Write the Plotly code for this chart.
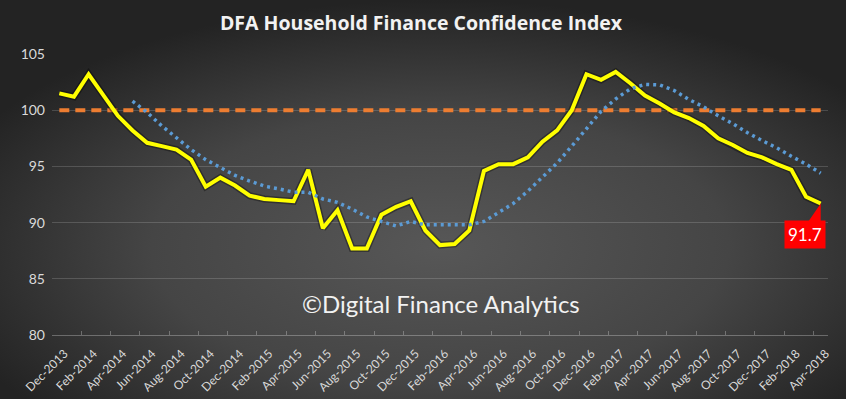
import base64
import pandas as pd
import plotly.graph_objects as go

# ---------------- data ----------------
months = [d.strftime("%b-%Y") for d in pd.date_range("2013-12-01", "2018-04-01", freq="MS")]

index_values = [
    101.5, 101.2, 103.2, 101.4, 99.5, 98.2, 97.1, 96.8, 96.5, 95.6,
    93.2, 94.0, 93.3, 92.4, 92.1, 92.0, 91.9, 94.7, 89.5, 91.1,
    87.7, 87.7, 90.7, 91.4, 91.9, 89.3, 88.0, 88.1, 89.3, 94.6,
    95.2, 95.2, 95.8, 97.2, 98.2, 100.0, 103.2, 102.7, 103.4, 102.4,
    101.3, 100.6, 99.8, 99.3, 98.6, 97.5, 96.9, 96.2, 95.8, 95.2,
    94.7, 92.3, 91.7,
]

trend_values = [
    None, None, None, None, None, 100.8, 99.8, 98.6, 97.5, 96.5,
    95.6, 94.9, 94.2, 93.7, 93.25, 93.0, 92.7, 92.7, 92.1, 91.8,
    91.2, 90.5, 90.1, 89.7, 90.1, 89.8, 89.8, 89.8, 89.8, 90.1,
    90.9, 91.7, 92.8, 94.0, 95.3, 96.8, 98.4, 99.9, 101.0, 101.9,
    102.3, 102.25, 101.75, 100.95, 100.3, 99.5, 98.8, 98.0, 97.3, 96.65,
    95.9, 95.2, 94.4,
]

neutral_values = [100] * len(months)

x_tick_labels = months[::2]
y_ticks = [80, 85, 90, 95, 100, 105]

title_text = "DFA Household Finance Confidence Index"
watermark_text = "©Digital Finance Analytics"
last_label = f"{index_values[-1]:.1f}"

# ---------------- layout geometry ----------------
W, H = 846, 399
ML, MR, MT, MB = 52, 18, 54, 64
PW, PH = W - ML - MR, H - MT - MB

FONT = "Lato, 'Open Sans', sans-serif"
TITLE_FONT = "'Open Sans', Lato, sans-serif"

# radial gradient background
svg = f"""<svg xmlns='http://www.w3.org/2000/svg' width='{W}' height='{H}' viewBox='0 0 {W} {H}'>
<defs><radialGradient id='g' cx='52%' cy='62%' r='62%'>
<stop offset='0%' stop-color='#575757'/>
<stop offset='55%' stop-color='#454545'/>
<stop offset='100%' stop-color='#232323'/>
</radialGradient></defs>
<rect width='{W}' height='{H}' fill='url(#g)'/></svg>"""
bg_uri = "data:image/svg+xml;base64," + base64.b64encode(svg.encode()).decode()

fig = go.Figure()

fig.add_trace(go.Scatter(
    x=months, y=neutral_values, mode="lines",
    line=dict(color="#ED7D31", width=4, dash="10px,6px"),
    hoverinfo="skip", showlegend=False,
))
# soft shadow under the index line
fig.add_trace(go.Scatter(
    x=months, y=index_values, mode="lines",
    line=dict(color="rgba(0,0,0,0.35)", width=7),
    hoverinfo="skip", showlegend=False,
))
fig.add_trace(go.Scatter(
    x=months, y=index_values, mode="lines",
    line=dict(color="#FFFF00", width=4),
    name="Index", showlegend=False,
))
fig.add_trace(go.Scatter(
    x=months, y=trend_values, mode="lines",
    line=dict(color="#5B9BD5", width=3.5, dash="3px,4px"),
    name="Trend", showlegend=False, connectgaps=False,
))

fig.update_layout(
    width=W, height=H,
    margin=dict(l=ML, r=MR, t=MT, b=MB, pad=0, autoexpand=False),
    paper_bgcolor="#333333",
    plot_bgcolor="rgba(0,0,0,0)",
    font=dict(family=FONT, color="#D9D9D9"),
    title=dict(
        text=f"<b>{title_text}</b>",
        x=421 / W, xref="container", xanchor="center",
        y=1 - 23 / H, yref="container", yanchor="middle",
        font=dict(family=TITLE_FONT, size=19.5, color="#F2F2F2"),
    ),
    images=[dict(
        source=bg_uri, xref="paper", yref="paper",
        x=-ML / PW, y=1 + MT / PH, sizex=W / PW, sizey=H / PH,
        xanchor="left", yanchor="top", sizing="stretch", layer="below",
    )],
    xaxis=dict(
        type="category", categoryorder="array", categoryarray=months,
        range=[-0.5, len(months) - 0.5],
        tickmode="array", tickvals=x_tick_labels, ticktext=x_tick_labels,
        tickangle=-45, tickfont=dict(size=12, color="#D9D9D9"),
        showgrid=False, zeroline=False, automargin=False,
        showline=True, linecolor="rgba(255,255,255,0.28)", linewidth=1,
        ticks="inside", ticklen=4, tickcolor="rgba(255,255,255,0.28)",
        tickson="boundaries", ticklabelstandoff=6, ticklabelshift=5,
        fixedrange=True,
    ),
    yaxis=dict(
        range=[80, 105], tickmode="array", tickvals=y_ticks,
        tickfont=dict(size=14, color="#D9D9D9"),
        showgrid=True, gridcolor="rgba(255,255,255,0.16)", gridwidth=1,
        zeroline=False, showline=False, ticks="", ticklabelstandoff=6,
        automargin=False, fixedrange=True,
    ),
    annotations=[
        dict(
            text=watermark_text, xref="paper", yref="paper",
            x=(441 - ML) / PW, y=(H - MB - 303) / PH,
            xanchor="center", yanchor="middle", showarrow=False,
            font=dict(family=FONT, size=24, color="#F2F2F2"),
        ),
        dict(
            text=last_label, x=months[-1], y=index_values[-1],
            xref="x", yref="y", showarrow=False,
            xanchor="center", yanchor="middle", xshift=-16, yshift=-31,
            bgcolor="#FF0000", borderpad=3,
            font=dict(family=FONT, size=17, color="#FFFFFF"),
        ),
    ],
    shapes=[dict(
        type="path", xref="x", yref="y",
        xsizemode="pixel", ysizemode="pixel",
        xanchor=months[-1], yanchor=index_values[-1],
        path="M -13,-19 L 0,-19 L 0,0 Z",
        fillcolor="#FF0000", line=dict(width=0), layer="above",
    )],
)

fig.write_html(
    "out.html",
    config={"displayModeBar": False},
    post_script="document.body.style.margin='0';document.body.style.overflow='hidden';",
)
